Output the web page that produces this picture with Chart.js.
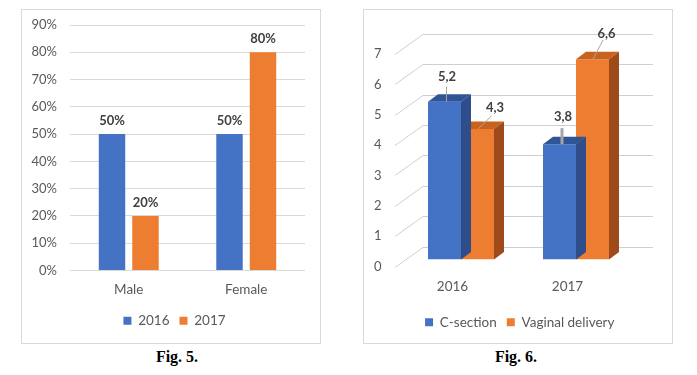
<!DOCTYPE html>
<html>
<head>
<meta charset="utf-8">
<script src="https://cdn.jsdelivr.net/npm/chart.js@4.4.1/dist/chart.umd.min.js"></script>
<style>
  html, body { margin: 0; padding: 0; background: #fff; }
  body { width: 697px; height: 375px; position: relative; overflow: hidden; }
  .box { position: absolute; border: 1px solid #D9D9D9; box-sizing: border-box; }
  .box canvas { position: absolute; left: 0; top: 0; }
  .cap { position: absolute; font: bold 16px "Liberation Serif", serif; color: #000; transform: translateX(-50%); }
</style>
</head>
<body>
<div class="box" style="left:21px; top:9px; width:300px; height:335px;">
  <canvas id="fig5" width="298" height="333"></canvas>
</div>
<div class="cap" style="left:177px; top:348px;">Fig. 5.</div>

<div class="box" style="left:363px; top:9px; width:310px; height:335px;">
  <canvas id="fig6" width="308" height="333"></canvas>
</div>
<div class="cap" style="left:516px; top:348px;">Fig. 6.</div>

<script>
// --- Data: Fig. 5 ---
const sexes = ['Male', 'Female'];
const share2016 = [50, 50];
const share2017 = [20, 80];

// --- Data: Fig. 6 ---
const birthYears = ['2016', '2017'];
const cSection = [5.2, 3.8];
const vaginalDelivery = [4.3, 6.6];

// --- Styles ---
const BLUE = '#4472C4', ORANGE = '#ED7D31';
const TEXT = '#595959', LABEL = '#404040', GRID = '#D9D9D9';
const FONT = 'Lato, "Open Sans", sans-serif';

Chart.defaults.font.family = FONT;
Chart.defaults.color = TEXT;
Chart.defaults.animation = false;
Chart.defaults.responsive = false;

// pin an axis to a fixed size and drop its label overhang
function fixSize(w, h) {
  return function (s) {
    if (w != null) s.width = w;
    if (h != null) s.height = h;
    s.paddingTop = s.paddingBottom = s.paddingLeft = s.paddingRight = 0;
  };
}

// empty axis used only to reserve room on the right
function spacerAxis(w) {
  return {
    position: 'right',
    afterFit: fixSize(w, null),
    ticks: { display: false },
    grid: { display: false, drawTicks: false },
    border: { display: false }
  };
}

const legendOpts = {
  position: 'bottom',
  labels: { boxWidth: 8, boxHeight: 8, padding: 10, font: { size: 13.5 } }
};

// value labels above plain bars
const flatLabels = {
  id: 'flatLabels',
  afterDatasetsDraw(chart) {
    const ctx = chart.ctx;
    ctx.save();
    ctx.font = 'bold 13px ' + FONT;
    ctx.fillStyle = LABEL;
    ctx.textAlign = 'center';
    ctx.textBaseline = 'middle';
    chart.data.datasets.forEach((ds, i) => {
      chart.getDatasetMeta(i).data.forEach((bar, j) => {
        ctx.fillText(ds.data[j] + '%', bar.x, bar.y - 13.5);
      });
    });
    ctx.restore();
  }
};

new Chart(document.getElementById('fig5'), {
  type: 'bar',
  data: {
    labels: sexes,
    datasets: [
      { label: '2016', data: share2016, backgroundColor: BLUE },
      { label: '2017', data: share2017, backgroundColor: ORANGE }
    ]
  },
  options: {
    layout: { padding: { left: 7, right: 0, top: 15, bottom: 5.5 } },
    datasets: { bar: { categoryPercentage: 0.57, barPercentage: 0.79 } },
    scales: {
      y: {
        min: 0, max: 90,
        afterFit: fixSize(41, null),
        ticks: { stepSize: 10, padding: 13, font: { size: 13 }, callback: v => v + '%' },
        grid: { color: GRID, drawTicks: false },
        border: { display: false }
      },
      yPad: spacerAxis(15),
      x: {
        afterFit: fixSize(null, 33.5),
        ticks: { padding: 11, font: { size: 13.5 } },
        grid: { display: false, drawTicks: false },
        border: { display: false }
      }
    },
    plugins: { legend: legendOpts, tooltip: { enabled: false } }
  },
  plugins: [flatLabels]
});

// --- Fig. 6: fake 3D columns ---
const DEPTH_X = 10, DEPTH_Y = -7.5;       // bar depth
const WALL_X = 19.5, WALL_Y = -13;        // back wall offset from the value pixel
const FLOOR_X = -8.5, FLOOR_Y = 7;        // front edge of the floor/diagonals
const faceColors = [
  { top: '#2F5597', side: '#2E4D8A' },
  { top: '#C8621F', side: '#9E4A1B' }
];
// label placement relative to the bar front top centre, with leader lines
const labelNudges = [
  [ { dx: 2.5, dy: -24.5, l: [2, 0, 2, -15], lw: 1 }, { dx: 3.5, dy: -27, l: [2.5, 0, 2.5, -16], lw: 3 } ],
  [ { dx: 17.5, dy: -21, l: [0.5, 0, 14, -13], lw: 1 }, { dx: 14, dy: -25, l: [0.5, 0, 10.5, -19], lw: 1 } ]
];

const threeD = {
  id: 'threeD',
  beforeDatasetsDraw(chart) {
    const ctx = chart.ctx, y = chart.scales.y, area = chart.chartArea;
    ctx.save();
    ctx.strokeStyle = '#CFCFCF';
    ctx.lineWidth = 1;
    y.ticks.forEach(t => {
      const py = Math.round(y.getPixelForValue(t.value)) + 0.5;
      ctx.beginPath();
      ctx.moveTo(area.left + FLOOR_X, py + FLOOR_Y);
      ctx.lineTo(area.left + WALL_X, py + WALL_Y);
      ctx.lineTo(area.right + WALL_X, py + WALL_Y);
      ctx.stroke();
    });
    ctx.restore();
  },
  afterDatasetDraw(chart, args) {
    const ctx = chart.ctx, c = faceColors[args.index];
    ctx.save();
    args.meta.data.forEach(bar => {
      const l = bar.x - bar.width / 2, r = bar.x + bar.width / 2;
      ctx.fillStyle = c.top;
      ctx.beginPath();
      ctx.moveTo(l, bar.y); ctx.lineTo(r, bar.y);
      ctx.lineTo(r + DEPTH_X, bar.y + DEPTH_Y); ctx.lineTo(l + DEPTH_X, bar.y + DEPTH_Y);
      ctx.closePath(); ctx.fill();
      ctx.fillStyle = c.side;
      ctx.beginPath();
      ctx.moveTo(r, bar.y); ctx.lineTo(r + DEPTH_X, bar.y + DEPTH_Y);
      ctx.lineTo(r + DEPTH_X, bar.base + DEPTH_Y); ctx.lineTo(r, bar.base);
      ctx.closePath(); ctx.fill();
    });
    ctx.restore();
  },
  afterDatasetsDraw(chart) {
    const ctx = chart.ctx;
    ctx.save();
    ctx.font = 'bold 13px ' + FONT;
    ctx.textAlign = 'center';
    ctx.textBaseline = 'middle';
    chart.data.datasets.forEach((ds, i) => {
      chart.getDatasetMeta(i).data.forEach((bar, j) => {
        const n = labelNudges[i][j];
        ctx.strokeStyle = '#A6A6A6';
        ctx.lineWidth = n.lw;
        ctx.beginPath();
        ctx.moveTo(bar.x + n.l[0], bar.y + n.l[1]);
        ctx.lineTo(bar.x + n.l[2], bar.y + n.l[3]);
        ctx.stroke();
        ctx.fillStyle = LABEL;
        ctx.fillText(String(ds.data[j]).replace('.', ','), bar.x + n.dx, bar.y + n.dy);
      });
    });
    ctx.restore();
  }
};

new Chart(document.getElementById('fig6'), {
  type: 'bar',
  data: {
    labels: birthYears,
    datasets: [
      { label: 'C-section', data: cSection, backgroundColor: BLUE },
      { label: 'Vaginal delivery', data: vaginalDelivery, backgroundColor: ORANGE }
    ]
  },
  options: {
    layout: { padding: { left: 3.5, right: 0, top: 37, bottom: 4 } },
    datasets: { bar: { categoryPercentage: 0.574, barPercentage: 1.0 } },
    scales: {
      y: {
        min: 0, max: 7,
        afterFit: fixSize(36, null),
        ticks: { stepSize: 1, padding: 22, labelOffset: 7, font: { size: 13 } },
        grid: { display: false, drawTicks: false },
        border: { display: false }
      },
      // keeps room for the 3D depth without shifting the legend
      yDepth: spacerAxis(38.5),
      x: {
        afterFit: fixSize(null, 46),
        ticks: { padding: 19, labelOffset: -8.5, font: { size: 13.5 } },
        grid: { display: false, drawTicks: false },
        border: { display: false }
      }
    },
    plugins: { legend: legendOpts, tooltip: { enabled: false } }
  },
  plugins: [threeD]
});
</script>
</body>
</html>
